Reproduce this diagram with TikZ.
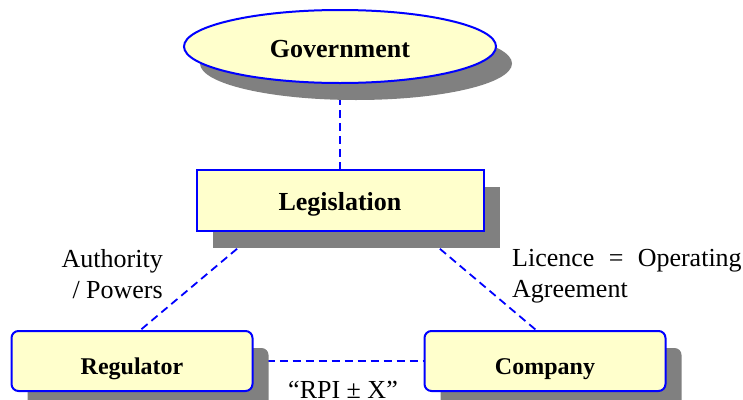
\documentclass[tikz,border=0pt]{standalone}
\usepackage{fontspec}
\setmainfont{Liberation Serif}
\usepackage{xcolor}
\usepackage{tikz}
\usetikzlibrary{shapes,positioning,calc,shadows,backgrounds}
\definecolor{boxfill}{RGB}{255, 255, 204}
\definecolor{boxline}{RGB}{0, 0, 255}

\begin{document}
\begin{tikzpicture}[x=1pt, y=-1pt, every node/.style={font=\fontsize{26}{31}\selectfont},
  party/.style={draw=boxline,line width=2pt,fill=boxfill,inner sep=0pt,text depth=0pt,
    drop shadow={shadow xshift=16pt,shadow yshift=-17pt,fill=black!50,opacity=1}},
  link/.style={draw=boxline,line width=1.8pt,dash pattern=on 8pt off 5pt}]
\useasboundingbox (0,0) rectangle (743,399);
\node[party,ellipse,minimum width=312pt,minimum height=73pt,text height=21pt,font=\fontsize{26}{31}\selectfont\bfseries](gov) at (340,46.5){Government};
\node[party,below=85pt of gov,minimum width=287pt,minimum height=61pt,text height=19pt,font=\fontsize{26}{31}\selectfont\bfseries](legis){Legislation};
\node[party,rounded corners=7pt,below=98pt of legis,xshift=-208pt,minimum width=241pt,minimum height=60pt,text height=26pt,font=\fontsize{24}{29}\selectfont\bfseries](reg){Regulator};
\node[party,rounded corners=7pt,right=170pt of reg,minimum width=241pt,minimum height=60pt,text height=26pt,font=\fontsize{24}{29}\selectfont\bfseries](comp){Company};
\node[align=right,anchor=north east,inner sep=0pt](auth) at (163,249){Authority\\/ Powers};
\node[align=left,anchor=north west,inner sep=0pt](lic) at (512,249){Licence\hspace{0.55em}=\hspace{0.55em}Operating\\Agreement};
\node[anchor=base,inner sep=0pt](rpi) at (343,398){“RPI ± X”};
\begin{scope}[on background layer]
\draw[link](gov)--(legis);
\draw[link]($(legis.south)+(-83,0)$)--($(reg.north)+(8.5,0)$);
\draw[link]($(legis.south)+(80,0)$)--($(comp.north)+(-9,0)$);
\draw[link](reg)--(comp);
\end{scope}
\end{tikzpicture}
\end{document}
